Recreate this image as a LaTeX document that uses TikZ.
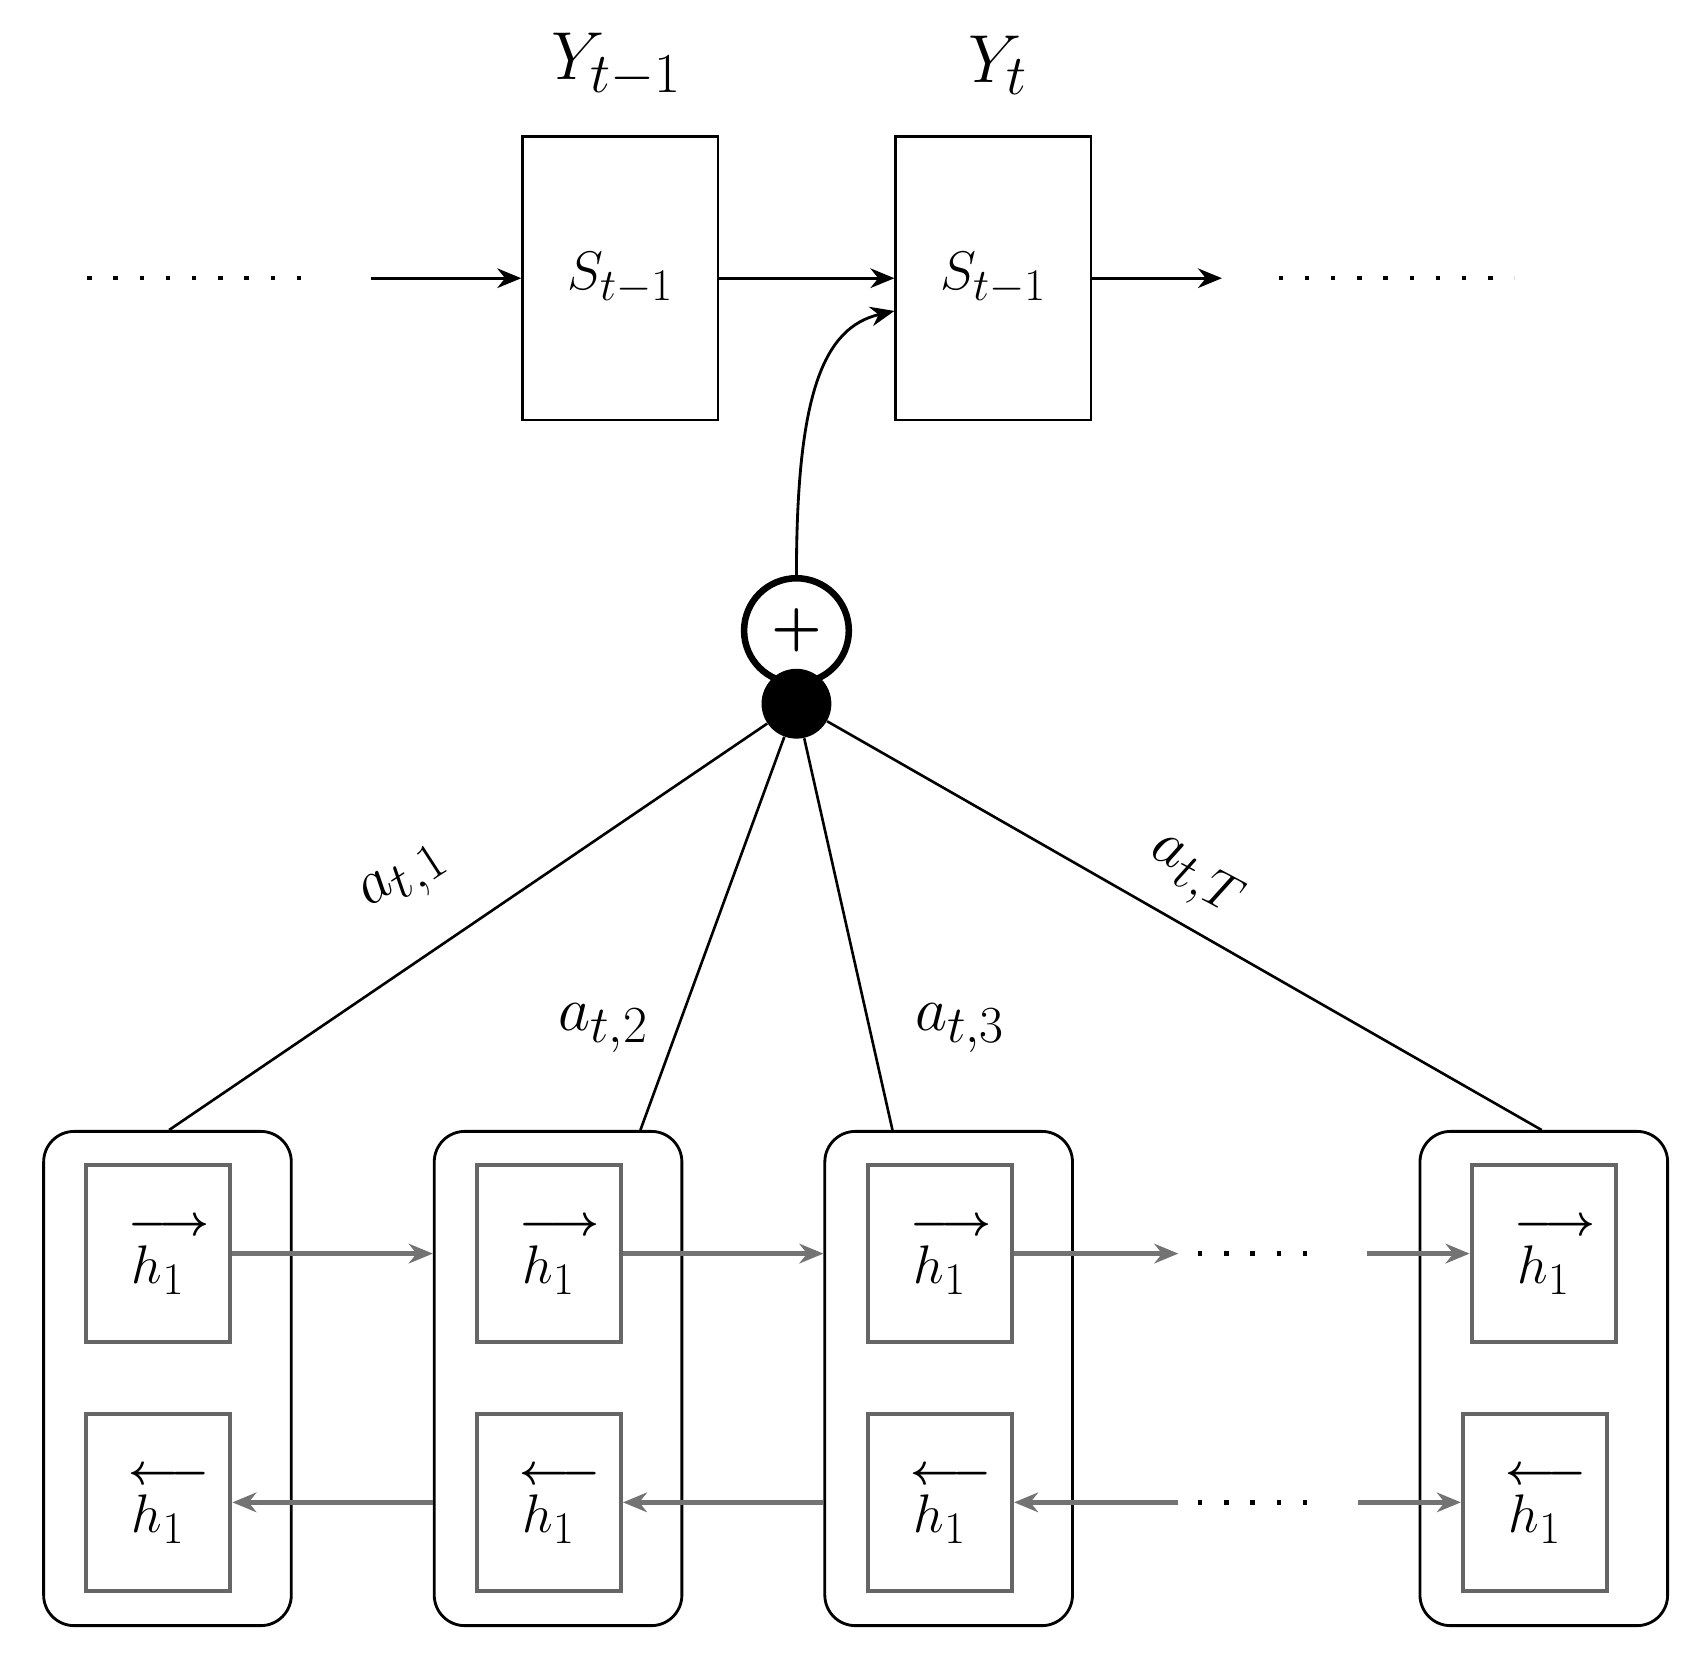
\documentclass[tikz,border=0pt]{standalone}
\usepackage{amsmath,graphicx}
\usetikzlibrary{arrows.meta}
\begin{document}
\begin{tikzpicture}[x=0.5pt,y=-0.5pt,
  big/.style={font=\fontsize{29}{31}\selectfont},
  sbox/.style={draw,line width=1.2pt,minimum width=89.5pt,minimum height=130pt,inner sep=0pt,big},
  outer/.style={draw,line width=1.3pt,rounded corners=14pt,minimum width=113.5pt,minimum height=226.5pt},
  hbox/.style={draw=black!60,line width=2pt,minimum width=66pt,minimum height=81pt,inner sep=0pt,big},
  arr/.style={-{Stealth[length=11pt,width=9pt]},line width=1.3pt},
  garr/.style={-{Stealth[length=11pt,width=9pt]},draw=black!55,line width=2.2pt},
  dots/.style={line width=2pt,dash pattern=on 2pt off 10pt},
  lbl/.style={font=\fontsize{29}{31}\selectfont}]
\useasboundingbox (0,0) rectangle (1560,1521);
% top
\node[sbox] (s1) at (568.5,255) {$S_{t-1}$};
\node[sbox] (s2) at (910.5,255) {$S_{t-1}$};
\node[font=\fontsize{29}{31}\selectfont] (y1) at (565,60) {\scalebox{1.25}{$Y_{t-1}$}};
\node[font=\fontsize{29}{31}\selectfont] (y2) at (915,60) {\scalebox{1.25}{$Y_t$}};
\coordinate (dl1) at (80,255); \coordinate (dl2) at (292,255);
\coordinate (al) at (340,255);
\coordinate (ar) at (1120,255);
\coordinate (dr1) at (1172,255); \coordinate (dr2) at (1388,255);
\draw[dots] (dl1) -- (dl2);
\draw[dots] (dr1) -- (dr2);
\draw[arr] (al) -- (s1.west);
\draw[arr] (s1.east) -- (s2.west);
\draw[arr] (s2.east) -- (ar);
% sum
\node[draw,circle,line width=3pt,minimum size=48pt,inner sep=0pt] (plus) at (730,578) {\scalebox{2.6}{$\boldsymbol{+}$}};
\node[fill,circle,minimum size=32pt,inner sep=0pt] (dot) at (730,645) {};
\draw[arr] (plus.north) .. controls (730,360) and (755,300) .. ([yshift=-15pt]s2.west);
% outer boxes
\foreach \i/\x in {1/153.5,2/511.5,3/869.5,4/1415}{
  \node[outer] (o\i) at (\x,1263.5) {};
}
\newcommand{\fh}{$\overset{\hspace{10pt}\scalebox{0.8}{$\boldsymbol{\longrightarrow}$}}{h_1}$}
\newcommand{\bh}{$\overset{\hspace{10pt}\scalebox{0.8}{$\boldsymbol{\longleftarrow}$}}{h_1}$}
\node[hbox] (f1) at (145,1149) {\fh};
\node[hbox] (b1) at (145,1377) {\bh};
\node[hbox] (f2) at (503,1149) {\fh};
\node[hbox] (b2) at (503,1377) {\bh};
\node[hbox] (f3) at (861.5,1149) {\fh};
\node[hbox] (b3) at (861.5,1377) {\bh};
\node[hbox] (f4) at (1415,1149) {\fh};
\node[hbox] (b4) at (1407,1377) {\bh};
% attention lines
\draw[line width=1.2pt] (dot) -- (o1.north -| 155,0);
\draw[line width=1.2pt] (dot) -- (o2.north -| 587,0);
\draw[line width=1.2pt] (dot) -- (o3.north -| 818,0);
\draw[line width=1.2pt] (dot) -- (o4.north -| 1413,0);
\node[lbl,rotate=33] (l1) at (372,808) {\scalebox{1.15}{$a_{t,1}$}};
\node[lbl] (l2) at (553,942) {\scalebox{1.15}{$a_{t,2}$}};
\node[lbl] (l3) at (880,942) {\scalebox{1.15}{$a_{t,3}$}};
\node[lbl,rotate=-28] (l4) at (1095,805) {\scalebox{1.15}{$a_{t,T}$}};
% forward chain
\draw[garr] (f1.east) -- (o2.west |- f1.east);
\draw[garr] (f2.east) -- (o3.west |- f2.east);
\coordinate (fa) at (1080,1149);
\coordinate (fd1) at (1098,1149); \coordinate (fd2) at (1212,1149);
\coordinate (fb) at (1253,1149);
\draw[garr] (f3.east) -- (fa);
\draw[dots] (fd1) -- (fd2);
\draw[garr] (fb) -- (f4.west);
% backward chain
\draw[garr] (o2.west |- b1.east) -- (b1.east);
\draw[garr] (o3.west |- b2.east) -- (b2.east);
\coordinate (ba) at (1080,1377);
\coordinate (bd1) at (1098,1377); \coordinate (bd2) at (1212,1377);
\coordinate (bb) at (1245,1377);
\draw[garr] (ba) -- (b3.east);
\draw[dots] (bd1) -- (bd2);
\draw[garr] (bb) -- (b4.west);
\end{tikzpicture}
\end{document}
